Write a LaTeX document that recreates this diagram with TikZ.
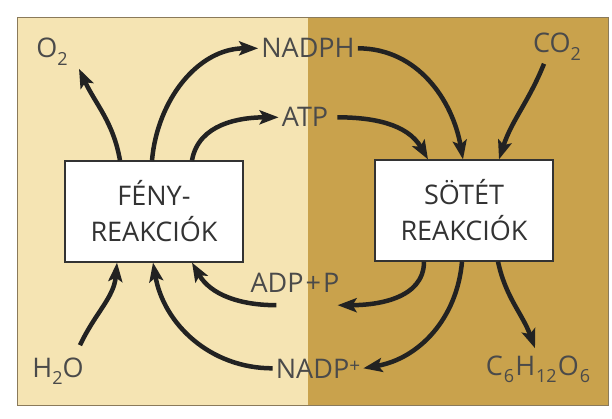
\documentclass[tikz,border=0pt]{standalone}
\usepackage{fontspec}
\setmainfont{Open Sans}
\usetikzlibrary{arrows.meta}

\definecolor{lightbg}{HTML}{F5E4B3}
\definecolor{darkbg}{HTML}{C9A24C}
\definecolor{framecol}{HTML}{8A7A5A}
\definecolor{boxline}{HTML}{333333}
\definecolor{boxtext}{HTML}{333333}
\definecolor{lbltext}{HTML}{4A4A4A}
\definecolor{arrowcol}{HTML}{222222}

\newcommand{\lowr}[1]{\raisebox{-0.28em}{\fontsize{18}{18}\selectfont #1}}
\newcommand{\uppr}[1]{\raisebox{0.22em}{\fontsize{19}{19}\selectfont #1}}

\begin{document}
\begin{tikzpicture}[
  x=1pt, y=-1pt,
  box/.style={draw=boxline, line width=1.2pt, fill=white, minimum width=178pt, minimum height=101pt, align=center, text=boxtext, font=\fontsize{27}{36}\selectfont},
  lbl/.style={anchor=base, inner sep=3pt, text=lbltext, font=\fontsize{27}{32}\selectfont},
  arrow/.style={-{Stealth[length=19pt,width=14pt,inset=4pt]}, line width=4.5pt, draw=arrowcol}
]
\useasboundingbox (0,0) rectangle (612,419);
\fill[lightbg] (17,17) rectangle (308,405);
\fill[darkbg] (308,17) rectangle (608,405);
\draw[framecol, line width=0.8pt] (17,17) rectangle (608,405);

\node[box] (fen) at (154,211.5) {FÉNY-\\REAKCIÓK};
\node[box] (sot) at (464,210.5) {SÖTÉT\\REAKCIÓK};

\node[lbl] (o2) at (52,58) {O\lowr{2}};
\node[lbl] (nadph) at (308,58) {NADPH};
\node[lbl] (atp) at (305,127) {ATP};
\node[lbl] (co2) at (557,53) {CO\lowr{2}};
\node[lbl] (h2o) at (58,377) {H\lowr{2}O};
\node[lbl] (adpp) at (295,292) {ADP\kern2pt+\kern2ptP};
\node[lbl] (nadpp) at (318,378) {NADP\uppr{+}};
\node[lbl] (glc) at (538,375) {C\kern1pt\lowr{6}\kern1ptH\kern1pt\lowr{12}\kern1ptO\kern1pt\lowr{6}};

\draw[arrow] ([xshift=-34pt]fen.north) to[out=100,in=-65] ([xshift=27pt]o2.south);
\draw[arrow] ([xshift=-2pt]fen.north) to[out=85,in=180] (nadph.west);
\draw[arrow] ([xshift=38pt]fen.north) to[out=80,in=180] (atp.west);
\draw[arrow] (nadph.east) to[out=0,in=100] ([xshift=-1pt]sot.north);
\draw[arrow, shorten <=6pt] (atp.east) to[out=0,in=120] ([xshift=-36pt]sot.north);
\draw[arrow] ([xshift=-13pt]co2.south) to[out=-112,in=72] ([xshift=35pt]sot.north);

\draw[arrow] ([xshift=22pt,yshift=9pt]h2o.north) to[out=65,in=-95] ([xshift=-37pt]fen.south);
\draw[arrow] (nadpp.west) to[out=180,in=-80] ([xshift=-1pt]fen.south);
\draw[arrow] ([xshift=29pt,yshift=-10pt]adpp.south west) to[out=180,in=-60] ([xshift=38pt]fen.south);
\draw[arrow] ([xshift=-40pt]sot.south) to[out=-90,in=0] ([xshift=-5pt,yshift=-10pt]adpp.south east);
\draw[arrow] ([xshift=-2pt]sot.south) to[out=-95,in=10] (nadpp.east);
\draw[arrow] ([xshift=34pt]sot.south) to[out=-78,in=110] ([xshift=-3pt,yshift=4pt]glc.north);
\end{tikzpicture}
\end{document}
